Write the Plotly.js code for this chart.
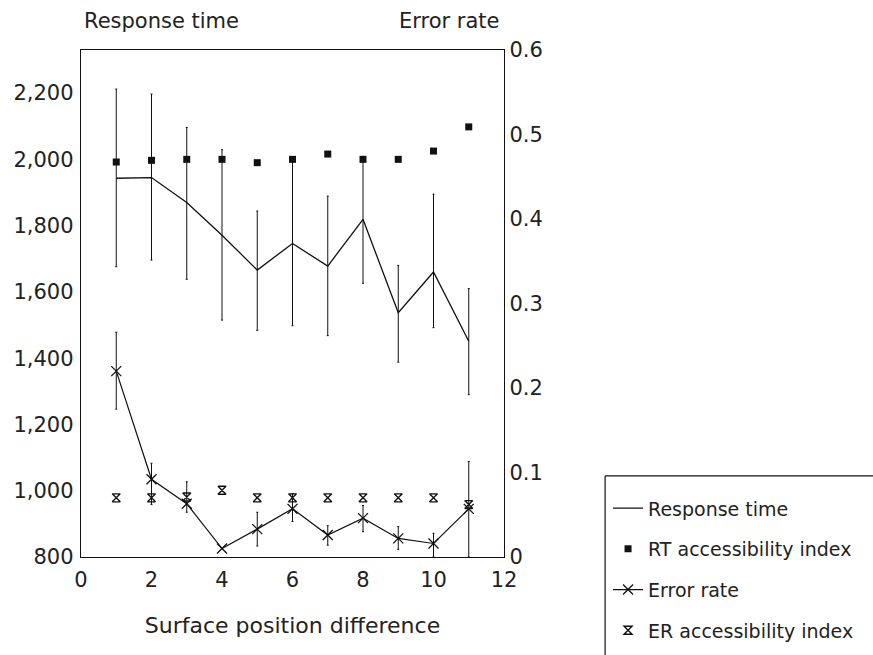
<!DOCTYPE html>
<html>
<head>
<meta charset="utf-8">
<script src="https://cdn.plot.ly/plotly-3.0.1.min.js"></script>
<style>
  html, body { margin: 0; padding: 0; background: #fff; }
  #chart { width: 873px; height: 655px; }
</style>
</head>
<body>
<div id="chart"></div>
<script>
// Surface position difference (x)
const positions = [1, 2, 3, 4, 5, 6, 7, 8, 9, 10, 11];

// Response time (ms) with upper / lower error bar extents
const responseTime = [1943, 1945, 1870, 1771, 1666, 1746, 1678, 1819, 1537, 1660, 1451];
const rtErrUp      = [269, 252, 226, 258, 178, 254, 211, 190, 143, 235, 159];
const rtErrDown    = [267, 249, 232, 256, 182, 248, 210, 193, 149, 168, 161];

// RT accessibility index (left axis)
const rtAccess = [1992, 1997, 2000, 2000, 1990, 2000, 2016, 2000, 2000, 2025, 2098];

// Error rate (right axis) with upper / lower error bar extents
const errorRate = [0.220, 0.092, 0.063, 0.010, 0.033, 0.057, 0.026, 0.046, 0.022, 0.016, 0.057];
const erErrUp   = [0.046, 0.019, 0.026, 0.000, 0.020, 0.018, 0.011, 0.015, 0.014, 0.012, 0.056];
const erErrDown = [0.045, 0.030, 0.010, 0.000, 0.020, 0.015, 0.012, 0.016, 0.013, 0.016, 0.057];

// ER accessibility index (right axis)
const erAccess = [0.070, 0.070, 0.071, 0.079, 0.070, 0.070, 0.070, 0.070, 0.070, 0.070, 0.062];

// Axis tick labels
const leftTicks  = [800, 1000, 1200, 1400, 1600, 1800, 2000, 2200];
const rightTicks = [0, 0.1, 0.2, 0.3, 0.4, 0.5, 0.6];
const xTicks     = [0, 2, 4, 6, 8, 10, 12];

const INK = '#111';
const TEXT = '#222';
const FONT = 'DejaVu Sans, Liberation Sans, sans-serif';

// Error bars live on hidden carrier traces so legend symbols stay clean
const rtBars = {
  x: positions, y: responseTime, yaxis: 'y', mode: 'markers',
  marker: { opacity: 0 }, showlegend: false, hoverinfo: 'skip',
  error_y: { type: 'data', symmetric: false, array: rtErrUp, arrayminus: rtErrDown,
             color: INK, thickness: 1, width: 1 }
};
const erBars = {
  x: positions, y: errorRate, yaxis: 'y2', mode: 'markers',
  marker: { opacity: 0 }, showlegend: false, hoverinfo: 'skip',
  error_y: { type: 'data', symmetric: false, array: erErrUp, arrayminus: erErrDown,
             color: INK, thickness: 1, width: 1 }
};

const traces = [
  rtBars, erBars,
  {
    name: 'Response time', x: positions, y: responseTime, yaxis: 'y',
    mode: 'lines', line: { color: INK, width: 1.3 }, legendgroup: 'a'
  },
  {
    name: 'RT accessibility index', x: positions, y: rtAccess, yaxis: 'y',
    mode: 'markers', marker: { symbol: 'square', size: 7, color: INK }, legendgroup: 'b'
  },
  {
    name: 'Error rate', x: positions, y: errorRate, yaxis: 'y2',
    mode: 'lines+markers', line: { color: INK, width: 1.2 },
    marker: { symbol: 'x-thin', size: 10, line: { color: INK, width: 1.3 } }, legendgroup: 'c'
  },
  {
    name: 'ER accessibility index', x: positions, y: erAccess, yaxis: 'y2',
    mode: 'markers',
    marker: { symbol: 'hourglass-open', size: 8, color: INK, line: { color: INK, width: 1.4 } },
    legendgroup: 'd'
  }
];

const axisCommon = {
  showgrid: false, zeroline: false, ticks: '', showline: true, automargin: false,
  linecolor: INK, linewidth: 1.2,
  tickfont: { family: FONT, size: 21, color: TEXT }
};

const layout = {
  width: 873, height: 655,
  margin: { l: 81, r: 369, t: 50, b: 98, autoexpand: false },
  paper_bgcolor: '#fff', plot_bgcolor: '#fff',
  font: { family: FONT, color: TEXT },
  showlegend: true,
  xaxis: Object.assign({}, axisCommon, {
    range: [0, 12], tickvals: xTicks, mirror: true, ticklabelstandoff: 4,
    title: { text: 'Surface position difference', font: { family: FONT, size: 22, color: TEXT }, standoff: 26 }
  }),
  yaxis: Object.assign({}, axisCommon, {
    range: [800, 2330], tickvals: leftTicks, tickformat: ',d', ticklabelstandoff: 2
  }),
  yaxis2: Object.assign({}, axisCommon, {
    range: [0, 0.6], tickvals: rightTicks, overlaying: 'y', side: 'right', ticklabelstandoff: 0
  }),
  legend: {
    xref: 'container', yref: 'container',
    x: 0.6965, y: 0.253, xanchor: 'left', yanchor: 'top',
    bgcolor: 'rgba(0,0,0,0)', borderwidth: 0,
    traceorder: 'grouped', tracegroupgap: 13,
    font: { family: FONT, size: 19, color: TEXT }
  },
  annotations: [
    { text: 'Response time', xref: 'paper', yref: 'paper', x: 0.002, y: 1.057, xanchor: 'left', yanchor: 'middle',
      showarrow: false, font: { family: FONT, size: 21, color: TEXT } },
    { text: 'Error rate', xref: 'paper', yref: 'paper', x: 0.995, y: 1.057, xanchor: 'right', yanchor: 'middle',
      showarrow: false, font: { family: FONT, size: 21, color: TEXT } }
  ],
  shapes: [
    // open legend frame running off the right and bottom edges
    { type: 'line', xref: 'paper', yref: 'paper', x0: 1.239, x1: 1.9, y0: 0.16, y1: 0.16,
      line: { color: INK, width: 1.2 } },
    { type: 'line', xref: 'paper', yref: 'paper', x0: 1.239, x1: 1.239, y0: 0.16, y1: -0.2,
      line: { color: INK, width: 1.2 } }
  ]
};

Plotly.newPlot('chart', traces, layout, { displayModeBar: false, staticPlot: true });
</script>
</body>
</html>
